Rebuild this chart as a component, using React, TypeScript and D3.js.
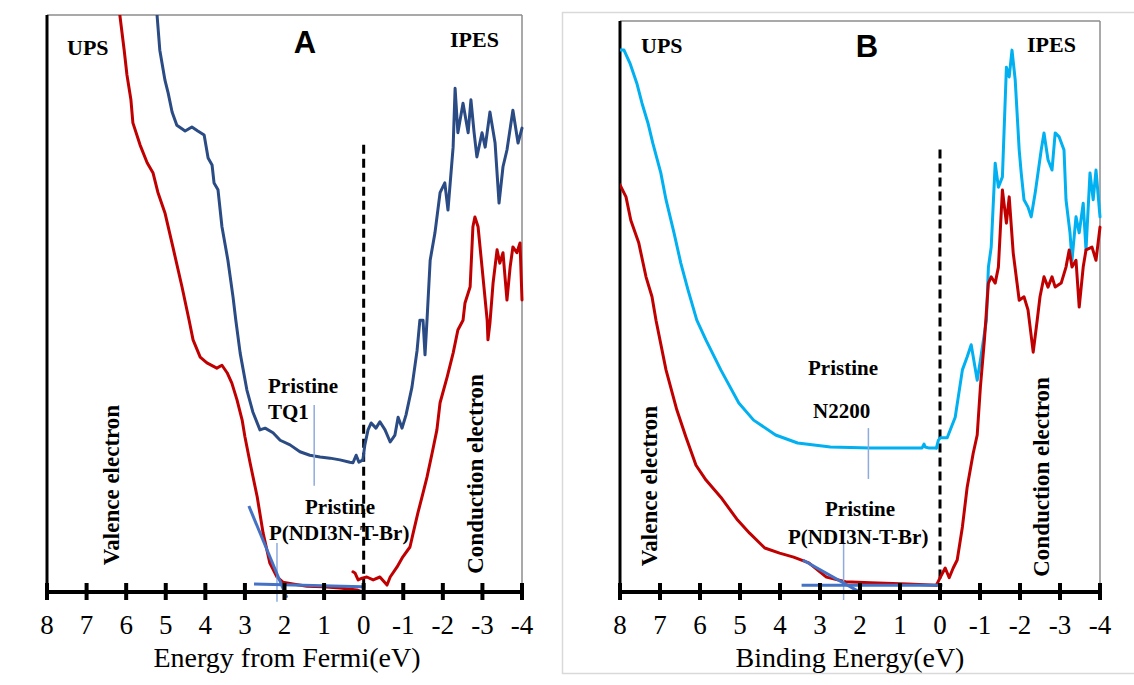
import React from 'react';
import * as d3 from 'd3';

type Pt = [number, number];

const ENERGY_TICKS = [8, 7, 6, 5, 4, 3, 2, 1, 0, -1, -2, -3, -4];

// ---------- Panel A : TQ1 and P(NDI3N-T-Br)  (energy eV, intensity a.u.) ----------
const A_TQ1_UPS: Pt[] = [
  [5.22, 100], [5.15, 93.9], [5.02, 88.7], [4.94, 86.5], [4.84, 83.2], [4.72, 80.9], [4.51, 79.9],
  [4.34, 80.6], [4.19, 79.9], [4.03, 79.2], [3.93, 75.2], [3.83, 74.0], [3.78, 70.9], [3.68, 69.7],
  [3.58, 63.3], [3.43, 57.5], [3.30, 51.1], [3.23, 47.1], [3.12, 41.4], [2.95, 35.0], [2.80, 31.2],
  [2.62, 28.1], [2.49, 28.4], [2.29, 27.6], [2.11, 26.3], [1.86, 25.5], [1.61, 24.3], [1.36, 23.7],
  [1.10, 23.4], [0.85, 23.2], [0.60, 22.9], [0.35, 22.5], [0.27, 22.4], [0.19, 23.7], [0.12, 22.5],
  [0.02, 22.9],
];
const A_TQ1_IPES: Pt[] = [
  [0.02, 22.9], [-0.03, 25.5], [-0.11, 28.1], [-0.19, 29.3], [-0.31, 28.4], [-0.41, 29.5], [-0.54, 28.1],
  [-0.67, 26.0], [-0.79, 27.2], [-0.87, 30.3], [-0.97, 28.4], [-1.07, 30.7], [-1.22, 35.5], [-1.35, 41.9],
  [-1.42, 47.1], [-1.50, 47.1], [-1.55, 41.1], [-1.60, 47.1], [-1.68, 57.5], [-1.80, 62.2], [-1.93, 69.2],
  [-2.05, 70.9], [-2.13, 66.2], [-2.26, 77.1], [-2.31, 87.3], [-2.38, 79.6], [-2.51, 84.7], [-2.64, 79.6],
  [-2.71, 85.3], [-2.79, 79.6], [-2.86, 75.4], [-2.99, 79.6], [-3.07, 77.1], [-3.19, 83.2], [-3.32, 77.8],
  [-3.42, 67.4], [-3.52, 73.7], [-3.62, 76.6], [-3.77, 83.5], [-3.90, 77.8], [-4.00, 80.4],
];
const A_PNDI_UPS: Pt[] = [
  [6.16, 100], [6.05, 93.9], [5.98, 89.6], [5.88, 85.3], [5.83, 81.3], [5.65, 77.5], [5.47, 74.4],
  [5.32, 72.6], [5.20, 69.3], [5.02, 65.7], [4.82, 59.8], [4.59, 52.9], [4.41, 47.1], [4.31, 43.7],
  [4.13, 40.7], [3.96, 39.7], [3.71, 38.8], [3.58, 39.3], [3.45, 38.0], [3.33, 36.2], [3.20, 33.3],
  [3.07, 29.8], [3.00, 26.9], [2.87, 22.4], [2.69, 16.5], [2.54, 10.2], [2.37, 5.0], [2.19, 2.6],
  [2.04, 1.7], [1.79, 1.4], [1.43, 1.0], [1.03, 0.9], [0.60, 0.7], [0.17, 0.35], [0.04, 0],
];
const A_PNDI_IPES: Pt[] = [
  [0.27, 3.5], [0.22, 3.3], [0.14, 2.1], [0.04, 2.4], [-0.08, 2.6], [-0.24, 2.1], [-0.41, 2.6],
  [-0.59, 1.2], [-0.67, 2.6], [-0.84, 4.3], [-0.99, 6.1], [-1.17, 7.8], [-1.25, 10.2], [-1.37, 13.7],
  [-1.50, 17.2], [-1.60, 19.9], [-1.73, 24.1], [-1.85, 28.1], [-1.93, 32.8], [-2.11, 37.3], [-2.26, 41.4],
  [-2.38, 45.4], [-2.51, 47.1], [-2.56, 50.1], [-2.69, 52.9], [-2.76, 63.3], [-2.81, 65.0], [-2.89, 63.3],
  [-2.99, 56.3], [-3.12, 47.1], [-3.14, 43.7], [-3.19, 46.6], [-3.27, 53.6], [-3.37, 59.3], [-3.44, 57.0],
  [-3.52, 58.8], [-3.62, 50.6], [-3.70, 56.3], [-3.77, 59.8], [-3.87, 58.8], [-3.95, 60.5], [-4.00, 50.6],
];
const A_ONSET_TANGENT: Pt[] = [[2.90, 14.9], [1.94, -1.0]];
const A_ONSET_BASE: Pt[] = [[2.77, 1.4], [0.04, 0.9]];
const A_PNDI_MARK: Pt[] = [[2.19, 8.5], [2.19, -1.7]];
const A_TQ1_MARK: Pt[] = [[1.25, 32.4], [1.25, 18.4]];

// ---------- Panel B : N2200 and P(NDI3N-T-Br) ----------
const B_N2200_UPS: Pt[] = [
  [8.00, 94.9], [7.90, 94.9], [7.75, 92.6], [7.58, 89.1], [7.45, 85.6], [7.30, 82.1], [7.18, 78.6],
  [6.98, 73.4], [6.85, 68.7], [6.65, 62.9], [6.48, 57.6], [6.30, 52.9], [6.08, 47.6], [5.85, 44.1],
  [5.48, 38.9], [5.03, 33.1], [4.66, 30.1], [4.11, 27.5], [3.56, 26.1], [2.74, 25.4], [1.74, 25.2],
  [0.81, 25.2], [0.45, 25.2], [0.40, 25.9], [0.37, 25.4], [0.27, 25.2], [0.09, 25.2],
];
const B_N2200_IPES: Pt[] = [
  [0.09, 25.2], [0.04, 26.6], [-0.01, 27.0], [-0.18, 27.0], [-0.38, 30.6], [-0.56, 38.9], [-0.68, 41.2],
  [-0.78, 43.3], [-0.93, 37.1], [-1.01, 40.6], [-1.16, 47.6], [-1.21, 56.9], [-1.28, 60.4], [-1.38, 75.1],
  [-1.46, 70.9], [-1.56, 72.7], [-1.66, 91.9], [-1.73, 90.2], [-1.80, 94.9], [-1.88, 89.7], [-1.98, 77.4],
  [-2.03, 73.4], [-2.10, 68.7], [-2.20, 67.4], [-2.28, 65.7], [-2.38, 69.9], [-2.53, 77.4], [-2.60, 80.4],
  [-2.70, 75.7], [-2.80, 73.9], [-2.88, 80.4], [-2.98, 79.7], [-3.10, 77.4], [-3.15, 68.7], [-3.25, 62.9],
  [-3.30, 58.1], [-3.40, 65.7], [-3.48, 62.9], [-3.58, 68.1], [-3.65, 59.9], [-3.75, 73.4], [-3.83, 68.7],
  [-3.90, 73.9], [-4.00, 65.7],
];
const B_PNDI_UPS: Pt[] = [
  [8.00, 71.3], [7.85, 69.2], [7.73, 65.1], [7.53, 61.1], [7.35, 55.2], [7.20, 51.7], [7.10, 47.6],
  [6.85, 38.9], [6.58, 31.9], [6.35, 27.1], [6.10, 22.2], [5.85, 19.6], [5.48, 16.6], [5.06, 12.6],
  [4.76, 10.3], [4.38, 7.7], [4.01, 6.8], [3.66, 6.1], [3.28, 5.1], [2.84, 2.6], [2.36, 1.8],
  [1.74, 1.6], [0.81, 1.4], [0.09, 1.2],
];
const B_PNDI_IPES: Pt[] = [
  [0.09, 1.2], [-0.01, 2.6], [-0.13, 4.2], [-0.23, 2.5], [-0.33, 4.2], [-0.43, 5.6], [-0.56, 11.4],
  [-0.68, 18.4], [-0.83, 24.3], [-0.93, 27.5], [-1.01, 35.9], [-1.11, 44.1], [-1.21, 54.1], [-1.28, 55.2],
  [-1.38, 54.1], [-1.46, 56.9], [-1.56, 70.4], [-1.66, 64.6], [-1.73, 69.2], [-1.83, 59.4], [-1.98, 51.1],
  [-2.10, 51.7], [-2.20, 49.4], [-2.33, 42.0], [-2.43, 47.6], [-2.50, 51.7], [-2.60, 55.2], [-2.70, 53.4],
  [-2.80, 55.2], [-2.88, 53.4], [-3.03, 54.1], [-3.15, 56.9], [-3.23, 59.9], [-3.30, 56.9], [-3.40, 58.1],
  [-3.48, 49.9], [-3.58, 56.9], [-3.65, 59.9], [-3.80, 60.4], [-3.90, 58.1], [-4.00, 63.9],
];
const B_ONSET_TANGENT: Pt[] = [[3.43, 5.6], [1.96, -0.2]];
const B_ONSET_BASE: Pt[] = [[3.46, 1.2], [-0.06, 1.2]];
const B_PNDI_MARK: Pt[] = [[2.41, 8.8], [2.41, -1.4]];
const B_N2200_MARK: Pt[] = [[1.79, 28.7], [1.79, 19.8]];

const FERMI_LINE: Pt[] = [[0, 77.5], [0, 0]];

const SERIF = '"Liberation Serif", "Times New Roman", serif';
const SANS = '"Liberation Sans", Arial, sans-serif';

const RED = '#C00000';
const NAVY = '#2A4B84';
const CYAN = '#00B0F0';
const FIT = '#4472C4';
const MARK = '#8FAADC';

type Series = { data: Pt[]; color: string };
type Label = { text: string; x: number; y: number };

interface PanelProps {
  id: string;
  left: number;
  right: number;
  top: number;
  bottom: number;
  series: Series[];
  fits: Pt[][];
  marks: Pt[][];
  letter: { text: string; x: number; y: number };
  ups: Label;
  ipes: Label;
  valence: Label;
  conduction: Label;
  notes: Label[];
  title: Label;
}

function Panel(p: PanelProps) {
  const x = d3.scaleLinear().domain([8, -4]).range([p.left, p.right]);
  const y = d3.scaleLinear().domain([0, 100]).range([p.bottom, p.top]);
  const line = d3
    .line<Pt>()
    .x((d) => x(d[0]))
    .y((d) => y(d[1]));
  const clipId = `clip-${p.id}`;
  return (
    <g>
      <defs>
        <clipPath id={clipId}>
          <rect x={p.left} y={p.top} width={p.right - p.left + 2} height={p.bottom - p.top + 2} />
        </clipPath>
      </defs>
      {/* frame */}
      <line x1={p.left} y1={p.top} x2={p.right} y2={p.top} stroke="#8c8c8c" strokeWidth={1.5} />
      <line x1={p.right} y1={p.top} x2={p.right} y2={p.bottom} stroke="#8c8c8c" strokeWidth={1.5} />
      <line x1={p.left} y1={p.top} x2={p.left} y2={p.bottom} stroke="#000" strokeWidth={3} />

      {/* fermi level */}
      <path d={line(FERMI_LINE) || ''} stroke="#000" strokeWidth={3} strokeDasharray="9 5" fill="none" />

      {/* spectra */}
      <g clipPath={`url(#${clipId})`}>
        {p.series.map((s, i) => (
          <path
            key={i}
            d={line(s.data) || ''}
            stroke={s.color}
            strokeWidth={3}
            fill="none"
            strokeLinejoin="round"
            strokeLinecap="round"
          />
        ))}
      </g>
      {p.marks.map((m, i) => (
        <path key={'m' + i} d={line(m) || ''} stroke={MARK} strokeWidth={1.5} fill="none" />
      ))}
      {p.fits.map((m, i) => (
        <path key={'f' + i} d={line(m) || ''} stroke={FIT} strokeWidth={3} fill="none" />
      ))}

      {/* x axis */}
      <line x1={p.left} y1={p.bottom} x2={p.right} y2={p.bottom} stroke="#000" strokeWidth={4} />
      {ENERGY_TICKS.map((t) => (
        <g key={t}>
          <line x1={x(t)} y1={p.bottom - 9} x2={x(t)} y2={p.bottom + 8} stroke="#000" strokeWidth={4} />
          <text x={x(t)} y={634} textAnchor="middle" fontFamily={SERIF} fontSize={27} fill="#000">
            {String(t)}
          </text>
        </g>
      ))}
      <text x={p.title.x} y={p.title.y} textAnchor="middle" fontFamily={SERIF} fontSize={28} fill="#000">
        {p.title.text}
      </text>

      {/* labels */}
      <text x={p.letter.x} y={p.letter.y} textAnchor="middle" fontFamily={SANS} fontWeight="bold" fontSize={31}>
        {p.letter.text}
      </text>
      <text x={p.ups.x} y={p.ups.y} fontFamily={SERIF} fontWeight="bold" fontSize={22}>
        {p.ups.text}
      </text>
      <text x={p.ipes.x} y={p.ipes.y} fontFamily={SERIF} fontWeight="bold" fontSize={22}>
        {p.ipes.text}
      </text>
      {[p.valence, p.conduction].map((l, i) => (
        <text
          key={'r' + i}
          transform={`translate(${l.x},${l.y}) rotate(-90)`}
          textAnchor="middle"
          fontFamily={SERIF}
          fontWeight="bold"
          fontSize={23}
        >
          {l.text}
        </text>
      ))}
      {p.notes.map((l, i) => (
        <text key={'n' + i} x={l.x} y={l.y} fontFamily={SERIF} fontWeight="bold" fontSize={21}>
          {l.text}
        </text>
      ))}
    </g>
  );
}

export default function App() {
  return (
    <svg
      width={1134}
      height={685}
      style={{ position: 'absolute', left: 0, top: 0, background: '#fff' }}
    >
      <rect x={0} y={0} width={1134} height={685} fill="#fff" />
      <rect x={562.5} y={12.5} width={580} height={661} fill="none" stroke="#d9d9d9" strokeWidth={1.5} />
      <Panel
        id="A"
        left={47}
        right={522}
        top={15}
        bottom={592}
        series={[
          { data: A_TQ1_UPS, color: NAVY },
          { data: A_TQ1_IPES, color: NAVY },
          { data: A_PNDI_UPS, color: RED },
          { data: A_PNDI_IPES, color: RED },
        ]}
        fits={[A_ONSET_TANGENT, A_ONSET_BASE]}
        marks={[A_PNDI_MARK, A_TQ1_MARK]}
        letter={{ text: 'A', x: 305, y: 53 }}
        ups={{ text: 'UPS', x: 67, y: 55 }}
        ipes={{ text: 'IPES', x: 450, y: 47 }}
        valence={{ text: 'Valence electron', x: 119, y: 485 }}
        conduction={{ text: 'Conduction electron', x: 483, y: 474 }}
        notes={[
          { text: 'Pristine', x: 268, y: 393 },
          { text: 'TQ1', x: 268, y: 419 },
          { text: 'Pristine', x: 305, y: 514 },
          { text: 'P(NDI3N-T-Br)', x: 269, y: 540 },
        ]}
        title={{ text: 'Energy from Fermi(eV)', x: 287, y: 667 }}
      />
      <Panel
        id="B"
        left={620}
        right={1100}
        top={21}
        bottom={592}
        series={[
          { data: B_N2200_UPS, color: CYAN },
          { data: B_N2200_IPES, color: CYAN },
          { data: B_PNDI_UPS, color: RED },
          { data: B_PNDI_IPES, color: RED },
        ]}
        fits={[B_ONSET_TANGENT, B_ONSET_BASE]}
        marks={[B_PNDI_MARK, B_N2200_MARK]}
        letter={{ text: 'B', x: 867, y: 57 }}
        ups={{ text: 'UPS', x: 641, y: 53 }}
        ipes={{ text: 'IPES', x: 1027, y: 52 }}
        valence={{ text: 'Valence electron', x: 657, y: 486 }}
        conduction={{ text: 'Conduction electron', x: 1049, y: 477 }}
        notes={[
          { text: 'Pristine', x: 808, y: 375 },
          { text: 'N2200', x: 813, y: 418 },
          { text: 'Pristine', x: 825, y: 516 },
          { text: 'P(NDI3N-T-Br)', x: 788, y: 544 },
        ]}
        title={{ text: 'Binding Energy(eV)', x: 850, y: 667 }}
      />
    </svg>
  );
}
